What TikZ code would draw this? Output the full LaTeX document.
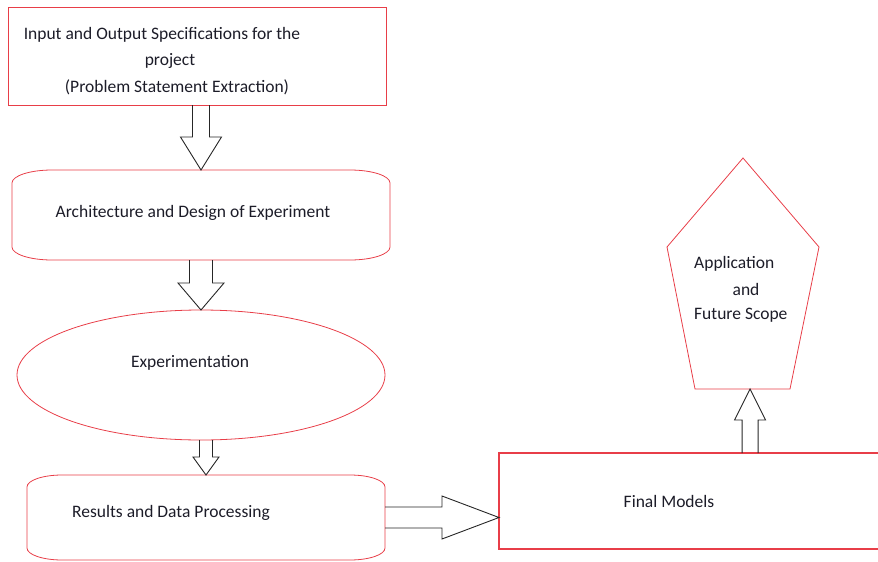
\documentclass[tikz,border=0pt]{standalone}
\usepackage{fontspec}
\setmainfont{Carlito}
\usetikzlibrary{calc,shapes.geometric}
\definecolor{boxred}{RGB}{232,62,72}
\definecolor{txt}{RGB}{28,28,40}
% rounded-side box: #1 node name, #2 x radius, #3 y radius
\newcommand\drawRoundSides[3]{%
  \pgfmathsetmacro\kx{#2*0.448}\pgfmathsetmacro\ky{#3*0.448}%
  \draw[redline] ($(#1.north west)+(#2,0)$) -- ($(#1.north east)+(-#2,0)$)
    .. controls ($(#1.north east)+(-\kx,0)$) and ($(#1.north east)+(0,\ky)$) .. ($(#1.north east)+(0,#3)$)
    -- ($(#1.south east)+(0,-#3)$)
    .. controls ($(#1.south east)+(0,-\ky)$) and ($(#1.south east)+(-\kx,0)$) .. ($(#1.south east)+(-#2,0)$)
    -- ($(#1.south west)+(#2,0)$)
    .. controls ($(#1.south west)+(\kx,0)$) and ($(#1.south west)+(0,-\ky)$) .. ($(#1.south west)+(0,-#3)$)
    -- ($(#1.north west)+(0,#3)$)
    .. controls ($(#1.north west)+(0,\ky)$) and ($(#1.north west)+(\kx,0)$) .. ($(#1.north west)+(#2,0)$) -- cycle;}
% down block arrow: #1 from, #2 to (x taken from #2), #3 shaft half width, #4 head half width, #5 head length
\newcommand\downBlock[5]{%
  \draw[blockarrow] let \p1=#1, \p2=#2 in
    (\x2-#3,\y1) -- (\x2-#3,\y2+#5) -- (\x2-#4,\y2+#5) -- (\x2,\y2)
    -- (\x2+#4,\y2+#5) -- (\x2+#3,\y2+#5) -- (\x2+#3,\y1);}
\newcommand\upBlock[5]{%
  \draw[blockarrow] let \p1=#1, \p2=#2 in
    (\x2-#3,\y1) -- (\x2-#3,\y2-#5) -- (\x2-#4,\y2-#5) -- (\x2,\y2)
    -- (\x2+#4,\y2-#5) -- (\x2+#3,\y2-#5) -- (\x2+#3,\y1);}
% right block arrow: y taken from #1
\newcommand\rightBlock[5]{%
  \draw[blockarrow] let \p1=#1, \p2=#2 in
    (\x1,\y1+#3) -- (\x2-#5,\y1+#3) -- (\x2-#5,\y1+#4) -- (\x2,\y1)
    -- (\x2-#5,\y1-#4) -- (\x2-#5,\y1-#3) -- (\x1,\y1-#3);}
\begin{document}
\begin{tikzpicture}[x=1pt,y=-1pt,
  lbl/.style={font=\fontsize{17.5}{21}\selectfont, text=txt, inner sep=0},
  redline/.style={draw=boxred, line width=0.8pt},
  frame/.style={inner sep=0, outer sep=0},
  blockarrow/.style={draw=black!85, line width=0.9pt, line join=miter}]
\useasboundingbox (0,0) rectangle (878,562);

% nodes
\node[frame, redline, rectangle, minimum width=378pt, minimum height=98pt] (spec) at (197,56) {};
\node[frame, minimum width=378pt, minimum height=90pt] (arch) at (201,215) {};
\node[frame, redline, ellipse, minimum width=368pt, minimum height=130pt] (expt) at (201,375) {};
\node[frame, minimum width=358pt, minimum height=85pt] (res) at (206,517.5) {};
\node[frame, minimum width=396pt, minimum height=96pt] (fmodels) at (697,501) {};
\drawRoundSides{arch}{40}{13}
\drawRoundSides{res}{35}{12}
\coordinate (fEdgeTop) at (878,453);
\coordinate (fEdgeBot) at (878,549);
\draw[draw=boxred, line width=1.1pt] (fEdgeTop) -- (fmodels.north west) -- (fmodels.south west) -- (fEdgeBot);

% pentagon
\coordinate (pTop) at (743,158);
\coordinate (pR) at (819,247);
\coordinate (pBR) at (790,389);
\coordinate (pBL) at (695,389);
\coordinate (pL) at (667,247);
\draw[redline] (pTop) -- (pR) -- (pBR) -- (pBL) -- (pL) -- cycle;
\coordinate (appIn) at ($(pBL)!0.58!(pBR)$);
\coordinate (finOut) at (fmodels.north -| appIn);

% texts
\node[lbl] at (162,35) {Input and Output Specifications for the};
\node[lbl] at (170,61) {project};
\node[lbl] at (177,87) {(Problem Statement Extraction)};
\node[lbl] at (193,213) {Architecture and Design of Experiment};
\node[lbl] at (190,363) {Experimentation};
\node[lbl] at (171,513) {Results and Data Processing};
\node[lbl] at (669,501) {Final Models};
\node[lbl, anchor=west] at (694,264) {Application};
\node[lbl] at (746,289) {and};
\node[lbl, anchor=west] at (694,315) {Future Scope};

% connectors
\downBlock{(spec.south)}{(arch.north)}{8.5pt}{20.5pt}{33pt}
\downBlock{(arch.south)}{(expt.north)}{11.5pt}{23pt}{27pt}
\downBlock{(expt.south)}{(res.north)}{6.5pt}{13pt}{18pt}
\rightBlock{(res.east)}{(fmodels.west)}{10.5pt}{21.5pt}{57pt}
\upBlock{(finOut)}{(appIn)}{8pt}{15.5pt}{31pt}
\end{tikzpicture}
\end{document}
